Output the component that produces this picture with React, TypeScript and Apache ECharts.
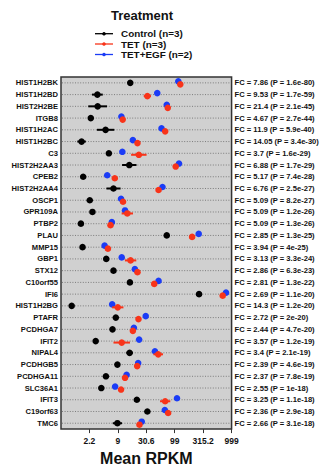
import { useEffect, useRef } from 'react';
import * as echarts from 'echarts';

// Genes, top to bottom
const genes = [
  'HIST1H2BK', 'HIST1H2BD', 'HIST2H2BE', 'ITGB8', 'HIST1H2AC', 'HIST1H2BC', 'C3', 'HIST2H2AA3',
  'CPEB2', 'HIST2H2AA4', 'OSCP1', 'GPR109A', 'PTBP2', 'PLAU', 'MMP15', 'GBP1', 'STX12',
  'C10orf55', 'IFI6', 'HIST1H2BG', 'PTAFR', 'PCDHGA7', 'IFIT2', 'NIPAL4', 'PCDHGB5',
  'PCDHGA11', 'SLC36A1', 'IFIT3', 'C19orf63', 'TMC6',
];

// Fold change / p-value annotation per gene
const fcLabels = [
  'FC = 7.86 (P = 1.6e-80)', 'FC = 9.53 (P = 1.7e-59)', 'FC = 21.4 (P = 2.1e-45)',
  'FC = 4.67 (P = 2.7e-44)', 'FC = 11.9 (P = 5.9e-40)', 'FC = 14.05 (P = 3.4e-30)',
  'FC = 3.7 (P = 1.6e-29)', 'FC = 6.88 (P = 1.7e-29)', 'FC = 5.17 (P = 7.4e-28)',
  'FC = 6.76 (P = 2.5e-27)', 'FC = 5.09 (P = 8.2e-27)', 'FC = 5.09 (P = 1.2e-26)',
  'FC = 5.09 (P = 1.3e-26)', 'FC = 2.85 (P = 1.3e-25)', 'FC = 3.94 (P = 4e-25)',
  'FC = 3.13 (P = 3.3e-24)', 'FC = 2.86 (P = 6.3e-23)', 'FC = 2.81 (P = 1.3e-22)',
  'FC = 2.69 (P = 1.1e-20)', 'FC = 14.3 (P = 1.2e-20)', 'FC = 2.72 (P = 2e-20)',
  'FC = 2.44 (P = 4.7e-20)', 'FC = 3.57 (P = 1.2e-19)', 'FC = 3.4 (P = 2.1e-19)',
  'FC = 2.39 (P = 4.6e-19)', 'FC = 2.37 (P = 7.8e-19)', 'FC = 2.55 (P = 1e-18)',
  'FC = 3.25 (P = 1.1e-18)', 'FC = 2.36 (P = 2.9e-18)', 'FC = 2.66 (P = 3.1e-18)',
];

// Group means and standard errors, in log10(RPKM + 1)
const controlMean = [
  1.218, 0.640, 0.645, 0.524, 0.784, 0.362, 0.842, 1.201, 0.390, 0.923, 0.506, 0.553, 0.350, 1.860, 0.379,
  0.796, 0.923, 1.212, 2.428, 0.188, 0.964, 0.906, 0.610, 1.207, 0.992, 0.790, 0.709, 1.334, 1.519, 0.992,
];
const controlErr = [
  0.02, 0.095, 0.165, 0.02, 0.153, 0.075, 0.02, 0.127, 0.02, 0.124, 0.02, 0.02, 0.02, 0.02, 0.02,
  0.02, 0.02, 0.02, 0.02, 0.02, 0.02, 0.02, 0.02, 0.058, 0.02, 0.02, 0.02, 0.02, 0.02, 0.081,
];
const tetMean = [
  2.098, 1.519, 1.878, 1.085, 1.832, 1.345, 1.369, 2.017, 0.946, 1.716, 1.091, 1.166, 0.871, 2.306, 0.825,
  1.224, 1.345, 1.640, 2.844, 0.998, 1.363, 1.264, 1.068, 1.710, 1.340, 1.126, 1.056, 1.832, 1.884, 1.380,
];
const tetErr = [
  0.02, 0.064, 0.02, 0.02, 0.02, 0.02, 0.136, 0.02, 0.02, 0.02, 0.02, 0.1, 0.02, 0.02, 0.02,
  0.1, 0.02, 0.04, 0.02, 0.1, 0.02, 0.02, 0.145, 0.084, 0.02, 0.02, 0.02, 0.09, 0.02, 0.03,
];
const egfMean = [
  2.063, 1.693, 1.860, 1.062, 1.768, 1.264, 1.079, 2.075, 0.813, 1.785, 1.056, 1.126, 0.894, 2.422, 0.767,
  1.068, 1.299, 1.716, 2.902, 0.900, 1.490, 1.282, 1.374, 1.652, 1.357, 1.154, 0.952, 2.040, 1.826, 1.420,
];
const egfErr = [
  0.02, 0.02, 0.02, 0.02, 0.02, 0.02, 0.02, 0.02, 0.02, 0.02, 0.02, 0.02, 0.02, 0.02, 0.02,
  0.02, 0.02, 0.02, 0.02, 0.02, 0.02, 0.02, 0.02, 0.02, 0.02, 0.02, 0.02, 0.02, 0.02, 0.02,
];

// Axis ticks in log10(RPKM + 1); labels show the RPKM value
const tickLogs = [0.5, 1, 1.5, 2, 2.5, 3];

const RED = '#f8341a';
const BLUE = '#1b3cf6';
const FONT = '"Liberation Sans", Arial, sans-serif';

const groups = [
  { name: 'Control (n=3)', color: '#000000', mean: controlMean, err: controlErr, dy: 0 },
  { name: 'TET (n=3)', color: RED, mean: tetMean, err: tetErr, dy: 1.5 },
  { name: 'TET+EGF (n=2)', color: BLUE, mean: egfMean, err: egfErr, dy: -1.5 },
];
// control first, then TET+EGF, TET on top
const drawOrder = [0, 2, 1];

function rpkmLabel(v: number): string {
  return String(Number((Math.pow(10, v) - 1).toFixed(1)));
}

export default function App() {
  const ref = useRef<HTMLDivElement>(null);

  useEffect(() => {
    if (!ref.current) return;
    const chart = echarts.init(ref.current, null, { renderer: 'svg' });

    const pointSeries = drawOrder.map((gi) => {
      const g = groups[gi];
      return {
        type: 'custom',
        name: g.name,
        yAxisIndex: 0,
        encode: { x: 0, y: 1 },
        data: g.mean.map((m, i) => [m, i, g.err[i]]),
        renderItem: (_params: any, api: any) => {
          const v = api.value(0);
          const i = api.value(1);
          const e = api.value(2);
          const c = api.coord([v, i]);
          const lo = api.coord([v - e, i]);
          const hi = api.coord([v + e, i]);
          const y = c[1] + g.dy;
          return {
            type: 'group',
            children: [
              {
                type: 'line',
                shape: { x1: lo[0], y1: y, x2: hi[0], y2: y },
                style: { stroke: g.color, lineWidth: 2 },
              },
              {
                type: 'circle',
                shape: { cx: c[0], cy: y, r: 3.3 },
                style: { fill: g.color },
              },
            ],
          };
        },
      };
    });

    const guideSeries = {
      type: 'custom',
      name: 'guides',
      yAxisIndex: 0,
      encode: { x: 0, y: 1 },
      data: genes.map((_, i) => [0, i]),
      renderItem: (params: any, api: any) => {
        const cs = params.coordSys;
        const y = api.coord([0, api.value(1)])[1];
        return {
          type: 'line',
          shape: { x1: cs.x + 1, y1: y, x2: cs.x + cs.width - 1, y2: y },
          style: { stroke: '#7c7c7c', lineWidth: 1, lineDash: [1, 1.6] },
        };
      },
    };

    const legendGraphics: any[] = [
      {
        type: 'text',
        x: 142,
        y: 15.7,
        style: {
          text: 'Treatment',
          font: `bold 13px ${FONT}`,
          fill: '#111',
          textAlign: 'center',
          textVerticalAlign: 'middle',
        },
      },
    ];
    const legendY = [33.7, 44, 54.5];
    groups.forEach((g, k) => {
      legendGraphics.push(
        {
          type: 'line',
          shape: { x1: 95, y1: legendY[k], x2: 113, y2: legendY[k] },
          style: { stroke: g.color, lineWidth: 1.3 },
        },
        {
          type: 'circle',
          shape: { cx: 104, cy: legendY[k], r: 1.8 },
          style: { fill: g.color },
        },
        {
          type: 'text',
          x: 121,
          y: legendY[k],
          style: {
            text: g.name,
            font: `bold 9.9px ${FONT}`,
            fill: '#111',
            textAlign: 'left',
            textVerticalAlign: 'middle',
          },
        },
      );
    });

    chart.setOption({
      animation: false,
      grid: {
        left: 61,
        right: 88.5,
        top: 77,
        bottom: 33,
        show: true,
        backgroundColor: '#d0d0d0',
        borderColor: '#333',
        borderWidth: 1.5,
      },
      xAxis: {
        type: 'value',
        min: 0,
        max: 3,
        axisLine: { show: false },
        splitLine: { show: false },
        axisTick: {
          show: true,
          customValues: tickLogs,
          length: 4,
          lineStyle: { color: '#333', width: 1 },
        },
        axisLabel: {
          customValues: tickLogs,
          formatter: (v: number) => rpkmLabel(v),
          fontSize: 8.5,
          fontWeight: 'bold',
          fontFamily: FONT,
          color: '#111',
          margin: 7,
        },
        name: 'Mean RPKM',
        nameLocation: 'middle',
        nameGap: 18,
        nameTextStyle: {
          fontSize: 16,
          fontWeight: 'bold',
          fontFamily: FONT,
          color: '#111',
          verticalAlign: 'top',
        },
      },
      yAxis: [
        {
          type: 'category',
          data: genes,
          inverse: true,
          axisLine: { show: false },
          axisTick: { show: false },
          splitLine: { show: false },
          axisLabel: {
            fontSize: 7.6,
            fontWeight: 'bold',
            fontFamily: FONT,
            color: '#111',
            margin: 3,
            interval: 0,
          },
        },
        {
          type: 'category',
          data: fcLabels,
          inverse: true,
          position: 'right',
          axisLine: { show: false },
          axisTick: { show: false },
          splitLine: { show: false },
          axisLabel: {
            fontSize: 7.6,
            fontWeight: 'bold',
            fontFamily: FONT,
            color: '#111',
            margin: 3,
            interval: 0,
          },
        },
      ],
      graphic: legendGraphics,
      series: [guideSeries, ...pointSeries],
    });

    return () => chart.dispose();
  }, []);

  return (
    <div
      ref={ref}
      style={{ position: 'fixed', left: 0, top: 0, width: 322, height: 471, background: '#fff' }}
    />
  );
}
